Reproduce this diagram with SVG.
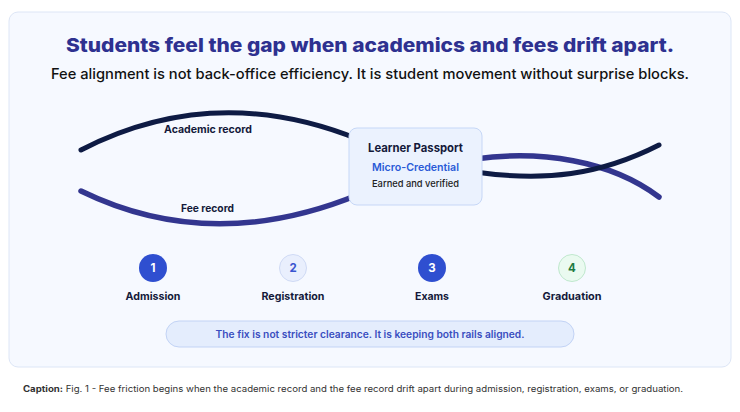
<svg xmlns="http://www.w3.org/2000/svg" width="740" height="412" viewBox="0 0 740 412">
<style>
text{font-family:"Inter","Open Sans","Liberation Sans",sans-serif}
.lbl{font-size:10px;font-weight:700;fill:#14193a;text-anchor:middle}
.step{font-size:10.5px;font-weight:700;fill:#14193a;text-anchor:middle}
.num{font-size:11.5px;font-weight:700;text-anchor:middle}
.rail{fill:none;stroke-linecap:round}
.acad{stroke:#0e1b44;stroke-width:5}
.fee{stroke:#33368f;stroke-width:5.5}
</style>
<rect x="9" y="12" width="722" height="355" rx="9" fill="#f6f9ff" stroke="#dde6f6" stroke-width="1"/>
<text x="370" y="52" text-anchor="middle" font-size="19" font-weight="800" fill="#2e3190" textLength="608" lengthAdjust="spacingAndGlyphs">Students feel the gap when academics and fees drift apart.</text>
<text x="370" y="79" text-anchor="middle" font-size="14.5" font-weight="500" fill="#111" textLength="638" lengthAdjust="spacingAndGlyphs">Fee alignment is not back-office efficiency. It is student movement without surprise blocks.</text>
<g id="connectors">
<path class="rail acad" d="M81,150 Q215,81 360,140"/>
<path class="rail fee" d="M81,191 Q212,255 360,194"/>
<path class="rail fee" d="M475,159 C540,150 610,160 659,197"/>
<path class="rail acad" d="M475,172 C545,182 600,175 659,145"/>
<text class="lbl" x="208" y="133" textLength="88" lengthAdjust="spacingAndGlyphs">Academic record</text>
<text class="lbl" x="207.5" y="212" textLength="53" lengthAdjust="spacingAndGlyphs">Fee record</text>
</g>
<g id="passport">
<rect x="349" y="128" width="133" height="77" rx="8" fill="#ebf2fe" stroke="#c6d7f7" stroke-width="1"/>
<text x="415.5" y="152" text-anchor="middle" font-size="12" font-weight="700" fill="#14193a" textLength="95" lengthAdjust="spacingAndGlyphs">Learner Passport</text>
<text x="415.5" y="171" text-anchor="middle" font-size="10.5" font-weight="600" fill="#2a5bd7" textLength="87" lengthAdjust="spacingAndGlyphs">Micro-Credential</text>
<text x="415.5" y="187" text-anchor="middle" font-size="9.5" font-weight="500" fill="#222" textLength="87" lengthAdjust="spacingAndGlyphs">Earned and verified</text>
</g>
<g id="step1">
<circle cx="153" cy="268" r="14" fill="#2f4fd0"/>
<text class="num" x="153" y="272" fill="#fff">1</text>
<text class="step" x="153" y="300" textLength="55" lengthAdjust="spacingAndGlyphs">Admission</text>
</g>
<g id="step2">
<circle cx="293" cy="268" r="13.5" fill="#e9effd" stroke="#cfdaf5" stroke-width="1"/>
<text class="num" x="293" y="272" fill="#3a55d0">2</text>
<text class="step" x="293" y="300" textLength="63" lengthAdjust="spacingAndGlyphs">Registration</text>
</g>
<g id="step3">
<circle cx="432" cy="268" r="14" fill="#2f4fd0"/>
<text class="num" x="432" y="272" fill="#fff">3</text>
<text class="step" x="432" y="300" textLength="34" lengthAdjust="spacingAndGlyphs">Exams</text>
</g>
<g id="step4">
<circle cx="572" cy="268" r="13.5" fill="#eafaf0" stroke="#bfe8cd" stroke-width="1"/>
<text class="num" x="572" y="272" fill="#1e7a43">4</text>
<text class="step" x="572" y="300" textLength="59" lengthAdjust="spacingAndGlyphs">Graduation</text>
</g>
<g id="fix">
<rect x="166" y="321" width="408" height="26" rx="13" fill="#e4edfd" stroke="#c2d3f5" stroke-width="1"/>
<text x="370" y="338" text-anchor="middle" font-size="10" font-weight="600" fill="#3a4ec0" textLength="309" lengthAdjust="spacingAndGlyphs">The fix is not stricter clearance. It is keeping both rails aligned.</text>
</g>
<text x="23" y="392" font-size="8.5" fill="#333" textLength="660" lengthAdjust="spacingAndGlyphs"><tspan font-weight="700">Caption:</tspan> Fig. 1 - Fee friction begins when the academic record and the fee record drift apart during admission, registration, exams, or graduation.</text>
</svg>
